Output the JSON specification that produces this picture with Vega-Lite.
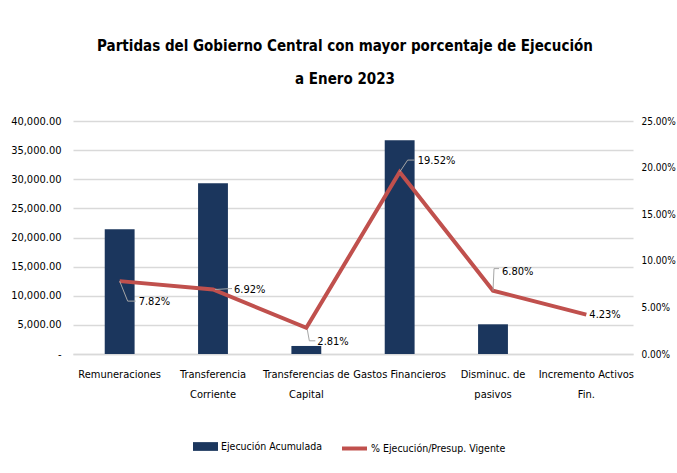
{
  "$schema": "https://vega.github.io/schema/vega-lite/v6.json",
  "width": 560,
  "height": 233,
  "autosize": {"type": "none"},
  "padding": {"left": 73, "top": 121, "right": 44, "bottom": 119},
  "background": "white",
  "config": {
    "font": "DejaVu Sans Condensed",
    "view": {"stroke": null},
    "axis": {"labelFont": "DejaVu Sans Condensed", "labelColor": "#000000", "labelFontSize": 11, "labelOverlap": false}
  },
  "title": {
    "text": ["Partidas del Gobierno Central con mayor porcentaje de Ejecución", "a Enero 2023"],
    "fontSize": 15,
    "fontWeight": "bold",
    "font": "DejaVu Sans Condensed",
    "color": "#000000",
    "lineHeight": 33,
    "offset": 28,
    "dx": -8,
    "anchor": "middle"
  },
  "data": {
    "values": [
      {"cat": "Remuneraciones", "ejec": 21400, "pct": 0.0782, "lbl": "7.82%"},
      {"cat": "Transferencia Corriente", "ejec": 29300, "pct": 0.0692, "lbl": "6.92%"},
      {"cat": "Transferencias de Capital", "ejec": 1380, "pct": 0.0281, "lbl": "2.81%"},
      {"cat": "Gastos Financieros", "ejec": 36700, "pct": 0.1952, "lbl": "19.52%"},
      {"cat": "Disminuc. de pasivos", "ejec": 5100, "pct": 0.068, "lbl": "6.80%"},
      {"cat": "Incremento Activos Fin.", "ejec": 0, "pct": 0.0423, "lbl": "4.23%"}
    ]
  },
  "encoding": {
    "x": {
      "field": "cat",
      "type": "nominal",
      "sort": null,
      "title": null,
      "scale": {"paddingInner": 0.68, "paddingOuter": 0.34},
      "axis": {
        "labelAngle": 0,
        "ticks": false,
        "domainColor": "#d9d9d9",
        "domainWidth": 1.5,
        "labelPadding": 14,
        "labelLineHeight": 20,
        "labelBaseline": "top",
        "labelExpr": "datum.value == 'Transferencia Corriente' ? ['Transferencia', 'Corriente'] : datum.value == 'Transferencias de Capital' ? ['Transferencias de', 'Capital'] : datum.value == 'Disminuc. de pasivos' ? ['Disminuc. de', 'pasivos'] : datum.value == 'Incremento Activos Fin.' ? ['Incremento Activos', 'Fin.'] : datum.value"
      }
    }
  },
  "layer": [
    {
      "mark": {"type": "bar", "color": "#1b365d"},
      "encoding": {
        "y": {
          "field": "ejec",
          "type": "quantitative",
          "title": null,
          "scale": {"domain": [0, 40000]},
          "axis": {
            "orient": "left",
            "values": [0, 5000, 10000, 15000, 20000, 25000, 30000, 35000, 40000],
            "labelExpr": "datum.value == 0 ? '-' : format(datum.value, ',.2f')",
            "ticks": false,
            "domain": false,
            "labelPadding": 12,
            "gridColor": "#d9d9d9",
            "gridWidth": 1.5
          }
        },
        "color": {
          "datum": "Ejecución Acumulada",
          "type": "nominal",
          "scale": {"range": ["#1b365d"]},
          "legend": {
            "title": null,
            "orient": "none",
            "legendX": 120,
            "legendY": 313,
            "symbolType": "M-1,-0.35L1,-0.35L1,0.35L-1,0.35Z",
            "symbolSize": 625,
            "symbolStrokeWidth": 0,
            "symbolOpacity": 1,
            "labelFont": "DejaVu Sans Condensed",
            "labelFontSize": 10.5,
            "labelColor": "#000000",
            "labelOffset": 3
          }
        }
      }
    },
    {
      "encoding": {
        "y": {
          "field": "pct",
          "type": "quantitative",
          "title": null,
          "scale": {"domain": [0, 0.25]},
          "axis": {
            "orient": "right",
            "values": [0, 0.05, 0.1, 0.15, 0.2, 0.25],
            "format": ".2%",
            "labelFontSize": 10,
            "ticks": false,
            "domain": false,
            "grid": false,
            "labelPadding": 8
          }
        }
      },
      "layer": [
        {
          "mark": {"type": "line", "color": "#c0504d", "strokeWidth": 4},
          "encoding": {
            "color": {
              "datum": "% Ejecución/Presup. Vigente",
              "type": "nominal",
              "scale": {"range": ["#c0504d"]},
              "legend": {
                "title": null,
                "orient": "none",
                "legendX": 267,
                "legendY": 313,
                "symbolType": "stroke",
                "symbolSize": 625,
                "symbolStrokeWidth": 4,
                "labelFont": "DejaVu Sans Condensed",
                "labelFontSize": 10.5,
                "labelColor": "#000000",
                "labelOffset": 2
              }
            }
          }
        },
        {
          "transform": [{"filter": "datum.cat == 'Remuneraciones'"}],
          "layer": [
            {"mark": {"type": "rule", "color": "#a6a6a6", "strokeWidth": 1, "xOffset": 0, "yOffset": 0, "x2Offset": 8, "y2Offset": 20}},
            {"mark": {"type": "rule", "color": "#a6a6a6", "strokeWidth": 1, "xOffset": 8, "yOffset": 20, "x2Offset": 16, "y2Offset": 20}},
            {"mark": {"type": "text", "align": "left", "dx": 19, "dy": 21, "fontSize": 11, "color": "#000000"}, "encoding": {"text": {"field": "lbl"}, "x2": null, "y2": null}}
          ],
          "encoding": {"x2": {"field": "cat"}, "y2": {"field": "pct"}}
        },
        {
          "transform": [{"filter": "datum.cat == 'Transferencia Corriente'"}],
          "layer": [
            {"mark": {"type": "rule", "color": "#a6a6a6", "strokeWidth": 1, "xOffset": 2, "yOffset": 0, "x2Offset": 19, "y2Offset": -1}},
            {"mark": {"type": "text", "align": "left", "dx": 21, "dy": 0, "fontSize": 11, "color": "#000000"}, "encoding": {"text": {"field": "lbl"}, "x2": null, "y2": null}}
          ],
          "encoding": {"x2": {"field": "cat"}, "y2": {"field": "pct"}}
        },
        {
          "transform": [{"filter": "datum.cat == 'Transferencias de Capital'"}],
          "layer": [
            {"mark": {"type": "rule", "color": "#a6a6a6", "strokeWidth": 1, "xOffset": 1, "yOffset": 2, "x2Offset": 3, "y2Offset": 13}},
            {"mark": {"type": "rule", "color": "#a6a6a6", "strokeWidth": 1, "xOffset": 3, "yOffset": 13, "x2Offset": 9, "y2Offset": 13}},
            {"mark": {"type": "text", "align": "left", "dx": 11, "dy": 14, "fontSize": 11, "color": "#000000"}, "encoding": {"text": {"field": "lbl"}, "x2": null, "y2": null}}
          ],
          "encoding": {"x2": {"field": "cat"}, "y2": {"field": "pct"}}
        },
        {
          "transform": [{"filter": "datum.cat == 'Gastos Financieros'"}],
          "layer": [
            {"mark": {"type": "rule", "color": "#a6a6a6", "strokeWidth": 1, "xOffset": 0, "yOffset": 0, "x2Offset": 8, "y2Offset": -12}},
            {"mark": {"type": "rule", "color": "#a6a6a6", "strokeWidth": 1, "xOffset": 8, "yOffset": -12, "x2Offset": 15, "y2Offset": -12}},
            {"mark": {"type": "text", "align": "left", "dx": 18, "dy": -11, "fontSize": 11, "color": "#000000"}, "encoding": {"text": {"field": "lbl"}, "x2": null, "y2": null}}
          ],
          "encoding": {"x2": {"field": "cat"}, "y2": {"field": "pct"}}
        },
        {
          "transform": [{"filter": "datum.cat == 'Disminuc. de pasivos'"}],
          "layer": [
            {"mark": {"type": "rule", "color": "#a6a6a6", "strokeWidth": 1, "xOffset": 0, "yOffset": 0, "x2Offset": 1, "y2Offset": -22}},
            {"mark": {"type": "rule", "color": "#a6a6a6", "strokeWidth": 1, "xOffset": 1, "yOffset": -22, "x2Offset": 6, "y2Offset": -22}},
            {"mark": {"type": "text", "align": "left", "dx": 9, "dy": -19, "fontSize": 11, "color": "#000000"}, "encoding": {"text": {"field": "lbl"}, "x2": null, "y2": null}}
          ],
          "encoding": {"x2": {"field": "cat"}, "y2": {"field": "pct"}}
        },
        {
          "transform": [{"filter": "datum.cat == 'Incremento Activos Fin.'"}],
          "mark": {"type": "text", "align": "left", "dx": 3, "dy": 0, "fontSize": 11, "color": "#000000"},
          "encoding": {"text": {"field": "lbl"}}
        }
      ]
    }
  ],
  "resolve": {"scale": {"y": "independent", "color": "independent"}}
}
